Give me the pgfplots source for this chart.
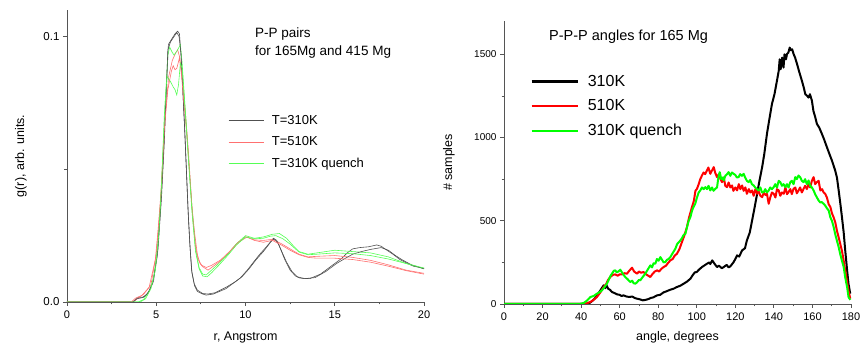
\documentclass[border=0pt]{standalone}
\usepackage{fontspec}
\setmainfont{Liberation Sans}
\usepackage{pgfplots}
\pgfplotsset{compat=1.18}
\definecolor{axgray}{HTML}{555555}
\definecolor{lblack}{HTML}{505050}
\definecolor{lred}{HTML}{FF7070}
\definecolor{lgreen}{HTML}{55FF55}
\begin{document}
\begin{tikzpicture}
\path[use as bounding box] (0pt,0pt) rectangle (861pt,352pt);
\pgfplotsset{
 myax/.style={scale only axis, axis lines*=left,
   axis line style={-, draw=axgray, line width=0.9pt},
   tick align=outside, major tick length=4pt, minor tick length=2.5pt,
   tick style={draw=axgray, line width=0.8pt},
   /pgf/number format/assume math mode=true,
   /pgf/number format/1000 sep={},
   xticklabel style={font=\fontsize{11}{11}\selectfont, yshift=-1.5pt},
   yticklabel style={font=\fontsize{10}{10}\selectfont},
   label style={font=\fontsize{12.5}{12.5}\selectfont},
   legend cell align=left}
}
% ---------------- left ----------------
\begin{axis}[myax, at={(67pt,50pt)}, anchor=south west, width=357pt, height=292pt,
  xmin=0, xmax=20, ymin=0, ymax=0.11,
  xtick={0,5,10,15,20}, minor xtick={2.5,7.5,12.5,17.5},
  ytick={0,0.1}, yticklabels={0.0,0.1}, minor ytick={0.05},
  yticklabel style={font=\fontsize{11.5}{11.5}\selectfont},
  xlabel={r, Angstrom}, ylabel={g(r), arb. units.},
  xlabel style={at={(axis description cs:0.5,-0.1325)}, anchor=base},
  ylabel style={at={(axis description cs:-0.129,0.5)}, anchor=center},
  legend style={at={(0.451,0.648)}, anchor=north west, draw=none, fill=none,
    font=\fontsize{13}{13}\selectfont, row sep=7pt, inner sep=0pt,
    nodes={inner sep=2pt}, /tikz/every odd column/.append style={column sep=6pt}},
  legend image code/.code={\draw[#1] (0pt,0pt) -- (35pt,0pt);},
  every axis plot/.append style={line width=0.6pt}]
\addplot[lblack] coordinates {(0,0) (3.6,0) (3.8,0.0005) (4.0,0.0018) (4.3,0.0018) (4.6,0.004) (4.85,0.008) (5.1,0.02) (5.3,0.04) (5.45,0.06) (5.58,0.082) (5.68,0.097) (5.86,0.099) (6.05,0.101) (6.2,0.102) (6.3,0.101) (6.4,0.092) (6.5,0.078) (6.6,0.064) (6.7,0.048) (6.8,0.032) (6.9,0.02) (7.0,0.011) (7.15,0.006) (7.3,0.004) (7.6,0.003) (7.8,0.0026) (8.2,0.003) (8.9,0.005) (9.3,0.007) (9.7,0.009) (10.1,0.012) (10.4,0.0146) (10.8,0.018) (11.2,0.021) (11.56,0.024) (11.75,0.0232) (11.9,0.021) (12.2,0.016) (12.5,0.012) (12.8,0.0098) (13.05,0.009) (13.6,0.0088) (14.2,0.0105) (14.9,0.014) (15.4,0.0165) (15.7,0.0185) (16.0,0.0200) (16.4,0.0205) (16.9,0.0208) (17.35,0.0215) (17.6,0.021) (17.9,0.0196) (18.3,0.0178) (18.65,0.016) (19.0,0.0148) (19.4,0.0135) (20,0.0127)};
\addlegendentry{T=310K}
\addplot[lred] coordinates {(0,0) (3.7,0) (3.9,0.001) (4.3,0.003) (4.7,0.0064) (5.0,0.018) (5.15,0.03) (5.3,0.043) (5.5,0.07) (5.7,0.085) (5.9,0.091) (6.1,0.094) (6.2,0.095) (6.3,0.0925) (6.4,0.088) (6.5,0.081) (6.65,0.07) (6.8,0.057) (7.0,0.036) (7.15,0.026) (7.3,0.018) (7.45,0.0145) (7.6,0.0133) (7.9,0.012) (8.2,0.0135) (8.5,0.015) (9.0,0.018) (9.5,0.022) (10.0,0.0246) (10.3,0.0238) (10.5,0.0234) (11.0,0.0232) (11.5,0.0236) (12.0,0.022) (12.5,0.020) (13.0,0.018) (13.5,0.017) (14.0,0.0172) (15.0,0.0175) (16.0,0.0168) (17.0,0.0157) (18.0,0.014) (19.0,0.012) (20,0.0108)};
\addlegendentry{T=510K}
\addplot[lgreen] coordinates {(0,0) (4.0,0) (4.3,0.001) (4.6,0.004) (4.85,0.009) (5.1,0.022) (5.3,0.045) (5.5,0.075) (5.65,0.093) (5.75,0.096) (5.9,0.094) (6.0,0.093) (6.2,0.095) (6.35,0.097) (6.45,0.09) (6.55,0.08) (6.7,0.065) (6.85,0.05) (7.0,0.036) (7.2,0.02) (7.4,0.013) (7.6,0.0105) (7.8,0.0102) (8.1,0.012) (8.5,0.0145) (9.0,0.018) (9.5,0.022) (10.0,0.025) (10.5,0.024) (11.0,0.0245) (11.5,0.0255) (11.9,0.0258) (12.3,0.024) (12.7,0.021) (13.0,0.019) (13.5,0.018) (14.0,0.0185) (15.0,0.0195) (16.0,0.019) (17.0,0.0185) (18.0,0.017) (19.0,0.0145) (20,0.0125)};
\addlegendentry{T=310K quench}
\addplot[lblack, forget plot] coordinates {(0,0) (3.7,0) (3.9,0.0012) (4.2,0.0016) (4.5,0.003) (4.8,0.007) (5.05,0.017) (5.25,0.036) (5.4,0.055) (5.55,0.078) (5.65,0.095) (5.8,0.098) (6.0,0.1) (6.15,0.1015) (6.28,0.1) (6.38,0.094) (6.48,0.081) (6.58,0.067) (6.68,0.051) (6.78,0.035) (6.88,0.022) (6.98,0.012) (7.12,0.007) (7.3,0.0045) (7.6,0.0032) (7.9,0.003) (8.3,0.0035) (8.9,0.0055) (9.4,0.0075) (9.8,0.0095) (10.2,0.0125) (10.6,0.016) (11.0,0.019) (11.4,0.0225) (11.6,0.0238) (11.8,0.0225) (12.0,0.0195) (12.3,0.015) (12.6,0.0115) (12.9,0.0095) (13.3,0.0088) (13.9,0.0092) (14.5,0.0115) (15.1,0.0145) (15.6,0.0165) (16.0,0.018) (16.5,0.019) (17.0,0.0198) (17.6,0.0205) (18.0,0.0195) (18.4,0.0175) (18.8,0.0158) (19.3,0.014) (20,0.0125)};
\addplot[lred, forget plot] coordinates {(0,0) (3.6,0) (3.85,0.0015) (4.2,0.0025) (4.6,0.0055) (4.95,0.016) (5.1,0.027) (5.25,0.04) (5.45,0.065) (5.65,0.08) (5.85,0.087) (5.95,0.089) (6.05,0.0875) (6.15,0.088) (6.3,0.092) (6.42,0.085) (6.55,0.075) (6.7,0.064) (6.85,0.05) (7.05,0.031) (7.2,0.021) (7.35,0.016) (7.55,0.0138) (7.8,0.013) (8.1,0.0138) (8.6,0.0158) (9.1,0.019) (9.6,0.0225) (10.1,0.0245) (10.5,0.0232) (11.0,0.0225) (11.5,0.0232) (12.0,0.0215) (12.5,0.0195) (13.0,0.0178) (13.5,0.0168) (14.0,0.0165) (15.0,0.0165) (16.0,0.016) (17.0,0.015) (18.0,0.0135) (19.0,0.0118) (20,0.0105)};
\addplot[lgreen, forget plot] coordinates {(0,0) (4.1,0) (4.4,0.0012) (4.7,0.005) (4.95,0.012) (5.15,0.026) (5.3,0.045) (5.45,0.07) (5.6,0.085) (5.7,0.084) (5.8,0.083) (5.95,0.081) (6.05,0.08) (6.15,0.078) (6.25,0.082) (6.35,0.09) (6.45,0.088) (6.55,0.079) (6.7,0.064) (6.85,0.049) (7.0,0.034) (7.2,0.019) (7.4,0.0125) (7.6,0.0098) (7.85,0.0095) (8.1,0.011) (8.5,0.0138) (9.0,0.0175) (9.5,0.0215) (10.0,0.0245) (10.5,0.0238) (11.0,0.024) (11.4,0.0248) (11.7,0.025) (12.1,0.0238) (12.5,0.0218) (13.0,0.0188) (13.5,0.0178) (14.0,0.018) (15.0,0.0185) (16.0,0.0182) (17.0,0.0175) (18.0,0.0162) (19.0,0.0145) (20,0.0128)};
\end{axis}
% ---------------- right ----------------
\begin{axis}[myax, at={(504pt,48pt)}, anchor=south west, width=347pt, height=283pt,
  xmin=0, xmax=180, ymin=0, ymax=1700,
  xtick={0,20,...,180}, minor xtick={10,30,...,170},
  ytick={0,500,1000,1500}, minor ytick={250,750,1250},
  xlabel={angle, degrees}, ylabel={\# samples},
  xlabel style={at={(axis description cs:0.5,-0.1297)}, anchor=base},
  ylabel style={at={(axis description cs:-0.1585,0.5)}, anchor=center},
  legend style={at={(0.075,0.817)}, anchor=north west, draw=none, fill=none,
    font=\fontsize{16}{16}\selectfont, row sep=8pt, inner sep=0pt,
    nodes={inner sep=2pt}, /tikz/every odd column/.append style={column sep=7pt}},
  legend image code/.code={\draw[#1, line width=2.6pt] (0pt,0pt) -- (46pt,0pt);},
  every axis plot/.append style={line width=2pt, line join=round}]
\addplot[black] coordinates {(0,0) (42,0) (44,3) (46,20) (48,45) (50,82) (51,100) (51.7,112) (52.5,95) (53,115) (54,92) (55,85) (56,72) (57.5,65) (58.6,58) (60,55) (61,48) (62,52) (63.5,45) (65,42) (66.5,45) (68,35) (69,32) (70.5,28) (72,22) (73.5,25) (75,30) (76,36) (77.5,40) (79.4,52) (81,55) (82.8,70) (84,75) (86.3,86) (88,92) (89.7,102) (91.5,110) (93.2,122) (95,135) (96.7,152) (98,175) (99,190) (100,192) (101,205) (102.7,222) (104,232) (105.3,242) (106.5,250) (107,240) (108,262) (109,245) (110.5,222) (111.5,230) (113,215) (114,222) (115.5,235) (116.5,220) (117.4,226) (119,250) (120,270) (120.9,292) (122,285) (123.5,322) (125,335) (126,382) (127.5,430) (128.7,502) (130,580) (131.3,662) (132.5,740) (133.9,822) (135,900) (136.4,1022) (137.5,1100) (139,1202) (140.3,1260) (141.6,1342) (142.5,1400) (143,1470) (143.5,1410) (144.3,1480) (145,1420) (145.5,1500) (146.3,1470) (146.8,1502) (147.5,1510) (148.2,1540) (148.8,1525) (149.5,1530) (150.2,1502) (151,1480) (152,1442) (153,1400) (154.5,1342) (155.5,1300) (156.3,1260) (157.1,1252) (158,1240) (158.7,1260) (159.7,1222) (160.5,1160) (161.5,1120) (162.3,1082) (163.5,1060) (164.9,1022) (166,990) (167.5,942) (169,895) (170.1,862) (171,830) (171.8,802) (172.7,760) (173.6,682) (174.5,600) (175.3,522) (176.2,430) (177,322) (178,200) (178.7,122) (179.6,62)};
\addlegendentry{310K}
\addplot[red] coordinates {(0,0) (41,0) (42.5,3) (44.8,12) (46.5,25) (48.2,42) (50,70) (51.7,102) (53,120) (54,145) (55.1,162) (56.5,175) (57.7,178) (59,170) (60,178) (61.2,178) (62.5,185) (63.8,182) (65,200) (66.4,218) (67.5,195) (69,182) (70,195) (71,188) (72.4,192) (73.5,180) (74.8,170) (75.9,162) (77,180) (78.2,195) (79.4,202) (80.5,195) (81.5,210) (82.8,222) (84,230) (85,245) (86.3,262) (87.5,270) (88.5,290) (89.7,302) (91,330) (92.3,372) (93.5,410) (94.9,462) (96,520) (97.5,582) (98.5,620) (99.3,680) (100.1,692) (101,720) (101.8,750) (102.7,772) (103.5,790) (104.3,780) (105.3,802) (106,820) (107,782) (107.8,800) (108.8,822) (109.5,790) (110.5,762) (111.5,780) (112.3,750) (113.1,732) (114,760) (114.8,710) (115.7,702) (116.5,730) (117.4,700) (118.3,712) (119,680) (120,700) (120.9,682) (121.8,720) (122.6,690) (123.5,712) (124.3,680) (125.2,700) (126,662) (127,690) (127.8,670) (128.7,682) (129.5,650) (130.4,690) (131.3,662) (132,680) (133,650) (133.9,642) (134.8,670) (135.6,655) (136.4,662) (137.3,602) (138.1,640) (139,670) (139.9,662) (140.8,640) (141.6,690) (142.5,682) (143.3,650) (144.2,670) (145.1,662) (146,700) (146.8,660) (147.6,672) (148.5,690) (149.3,660) (150.2,692) (151.1,700) (151.9,665) (152.8,682) (153.6,700) (154.5,670) (155.4,692) (156.2,710) (157.1,690) (158,722) (158.8,700) (159.7,740) (160.6,762) (161.4,720) (162.3,732) (163.2,740) (164.1,682) (165,690) (165.8,670) (166.6,662) (167.5,640) (168.4,600) (169.3,582) (170.1,545) (171,520) (171.8,492) (172.7,440) (173.6,400) (174.4,362) (175.3,320) (176.2,260) (177,202) (178,130) (178.7,80) (179.6,32)};
\addlegendentry{510K}
\addplot[green] coordinates {(0,0) (39,0) (41.3,6) (43,20) (44.8,42) (46.5,48) (48.2,62) (49.5,70) (50.8,82) (52,100) (53.4,122) (54.5,150) (55.3,170) (56,182) (57,200) (57.7,202) (58.5,190) (59.3,195) (60.3,206) (61.2,190) (62,175) (62.9,162) (64,150) (65.5,132) (66.5,140) (67.2,125) (68.1,122) (69,130) (70,145) (70.7,142) (71.8,160) (72.5,170) (73.3,182) (74.2,200) (75,215) (75.9,232) (76.8,220) (77.6,245) (78.5,242) (79.3,270) (80.2,260) (81.1,282) (82,265) (82.8,250) (83.7,252) (84.5,265) (85.4,270) (86.3,282) (87.2,300) (88,315) (88.9,332) (89.8,360) (90.6,370) (91.5,382) (92.3,395) (93.2,415) (94.1,422) (95,465) (95.8,500) (96.7,522) (97.5,560) (98.4,585) (99.2,602) (100.1,640) (101,670) (101.8,682) (102.7,700) (103.6,690) (104.4,702) (105.3,690) (106.1,710) (107,682) (107.9,700) (108.7,680) (109.6,692) (110.5,700) (111.2,760) (111.9,792) (112.7,750) (113.5,760) (114,742) (114.8,770) (115.7,780) (116.5,792) (117.4,770) (118.2,790) (119.1,782) (120,775) (120.8,760) (121.7,762) (122.5,780) (123.4,770) (124.3,782) (125.1,760) (126,740) (126.9,732) (127.7,745) (128.6,720) (129.5,712) (130.3,700) (131.2,690) (132.1,682) (133,700) (133.8,670) (134.7,672) (135.5,690) (136.4,670) (137.3,682) (138.1,700) (139,690) (139.9,702) (140.7,720) (141.6,700) (142.5,740) (143.3,732) (144.2,710) (145,720) (145.9,702) (146.8,720) (147.6,700) (148.5,732) (149.3,740) (150.2,720) (151.1,762) (151.9,750) (152.8,772) (153.7,760) (154.5,740) (155.4,732) (156.2,750) (157.1,720) (158,742) (158.8,710) (159.7,700) (160.6,682) (161.4,660) (162.3,640) (163.2,622) (164,610) (164.9,612) (165.8,602) (166.7,590) (167.5,575) (168.4,562) (169.3,520) (170.1,500) (171,462) (171.8,420) (172.7,380) (173.6,342) (174.4,300) (175.3,260) (176.2,222) (177,160) (178,100) (178.7,42) (179.6,25)};
\addlegendentry{310K quench}
\end{axis}
% titles
\node[anchor=base west, inner sep=0pt, font=\fontsize{13.5}{13.5}\selectfont] at (255pt,314.5pt) {P-P pairs};
\node[anchor=base west, inner sep=0pt, font=\fontsize{13.5}{13.5}\selectfont] at (255pt,296pt) {for 165Mg and 415 Mg};
\node[anchor=base west, inner sep=0pt, font=\fontsize{14.5}{14.5}\selectfont] at (549pt,311.3pt) {P-P-P angles for 165 Mg};
\end{tikzpicture}
\end{document}
